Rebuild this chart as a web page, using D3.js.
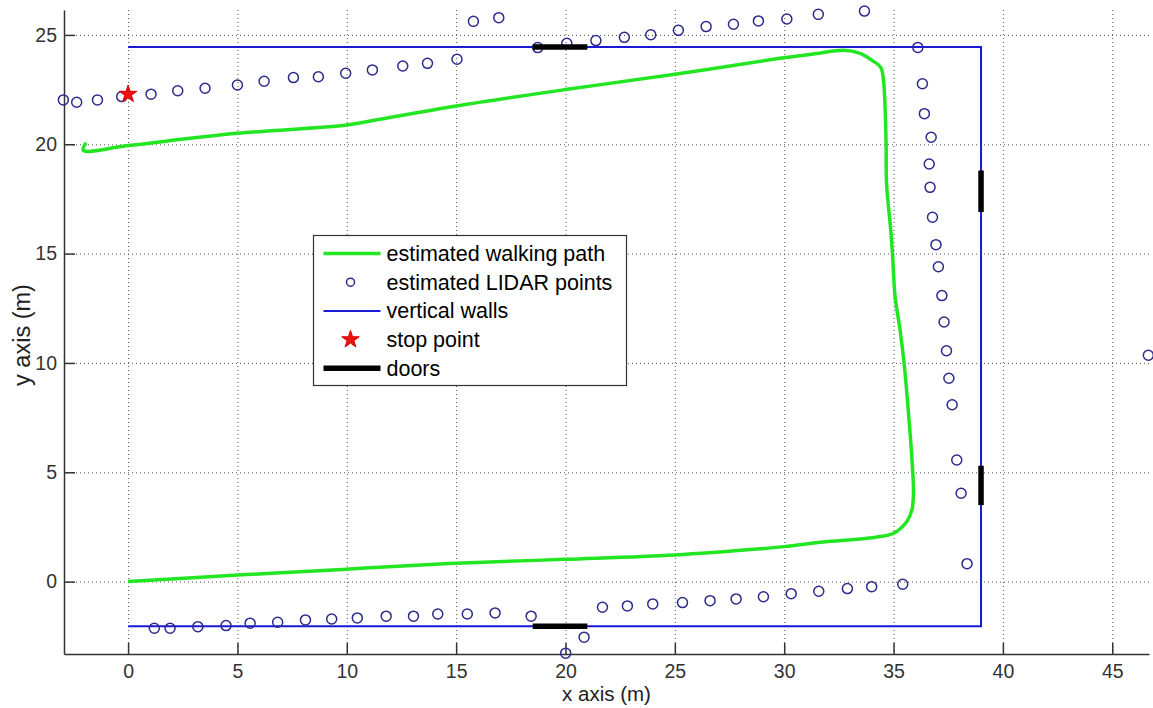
<!DOCTYPE html>
<html lang="en">
	<head>
		<meta charset="utf-8">
		<title>walking path and lidar points</title>
		<script src="https://cdn.jsdelivr.net/npm/d3@7"></script>
		<style type="text/css">
			body { margin: 0; background: white; }
			text { font-family: "Liberation Sans", Arial, sans-serif; }
		</style>
	</head>
	<body>

		<script type="text/javascript" charset="utf-8">

		//data
		var xTicks = [0,5,10,15,20,25,30,35,40,45]
		var yTicks = [0,5,10,15,20,25]

		// estimated walking path, starts at origin
		var walkPath = [[0,0],[5,0.3],[10,0.57],[11.5,0.66],[15,0.84],[20,1.02],[25,1.22],[28.9,1.5],[30,1.6],
			[32,1.83],[34.2,2.03],[35,2.21],[35.6,2.74],[35.84,3.28],[35.91,4.04],[35.86,5.3],[35.7,7.5],
			[35.48,10],[35.3,11.5],[35.07,13.03],[34.95,15],[34.87,16.1],[34.68,18.2],[34.66,20],[34.6,22],
			[34.55,22.8],[34.42,23.5],[34.0,23.85],[33.47,24.16],[32.7,24.3],[31.5,24.15],[29.8,23.93],
			[25,23.2],[20,22.5],[15,21.75],[11.5,21.14],[10,20.88],[5,20.5],[0,19.94],[-2.05,19.72],[-1.92,20.07]]

		var lidarPoints = [[-2.96,22.03],[-2.35,21.92],[-1.4,22.03],[-0.29,22.18],[1.05,22.29],[2.27,22.45],
			[3.52,22.56],[5.0,22.71],[6.22,22.88],[7.56,23.05],[8.7,23.09],[9.95,23.25],[11.17,23.4],[12.56,23.58],
			[13.69,23.7],[15.04,23.89],[15.79,25.62],[16.95,25.79],[18.73,24.42],[20.06,24.62],[21.39,24.74],
			[22.69,24.89],[23.9,25.01],[25.16,25.21],[26.43,25.38],[27.68,25.49],[28.82,25.64],[30.12,25.73],
			[31.56,25.94],[33.67,26.09],[36.11,24.43],[36.32,22.77],[36.41,21.4],[36.72,20.32],[36.63,19.1],
			[36.67,18.03],[36.78,16.66],[36.94,15.41],[37.05,14.4],[37.21,13.08],[37.31,11.87],[37.42,10.56],
			[37.53,9.3],[37.68,8.09],[37.89,5.56],[38.09,4.04],[38.36,0.82],[46.65,10.35],[35.42,-0.12],
			[34.0,-0.23],[32.89,-0.32],[31.58,-0.44],[30.32,-0.55],[29.05,-0.69],[27.8,-0.79],[26.61,-0.87],
			[25.35,-0.96],[23.99,-1.02],[22.83,-1.11],[21.69,-1.17],[20.85,-2.54],[20.01,-3.27],[18.43,-1.58],
			[16.78,-1.43],[15.51,-1.48],[14.16,-1.48],[13.05,-1.58],[11.8,-1.58],[10.48,-1.66],[9.31,-1.71],
			[8.11,-1.75],[6.84,-1.86],[5.58,-1.9],[4.48,-2.01],[3.19,-2.06],[1.92,-2.13],[1.2,-2.13]]

		var walls = [[0,24.45],[39,24.45],[39,-2.04],[0,-2.04]]

		var doors = [[[18.5,24.45],[21,24.45]],[[18.5,-2.04],[21,-2.04]],[[39,16.9],[39,18.8]],[[39,3.5],[39,5.3]]]

		var stopPoint = [0,22.29]

		var legendLabels = ["estimated walking path","estimated LIDAR points","vertical walls","stop point","doors"]

		//////////////////////////////////////////////////////////////////////////
		/////////////////////////////// SCALES ///////////////////////////////////
		//////////////////////////////////////////////////////////////////////////
		var plotLeft = 64, plotTop = 10, plotRight = 1149, plotBottom = 654

		var x = d3.scaleLinear().domain([-2.93,46.68]).range([plotLeft,plotRight])
		var y = d3.scaleLinear().domain([-3.31,26.14]).range([plotBottom,plotTop])

		var canvas = d3.select("body").append('svg').attr('width',1153).attr('height',708)

		var axisColor = '#333333'
		var green = '#22e622'
		var wallBlue = '#1a1ad6'
		var dotBlue = '#2b2b8c'

		// dotted grid
		canvas.append('g').selectAll('line').data(xTicks).enter().append('line')
			.attr('x1',function(d){return x(d)+0.5}).attr('x2',function(d){return x(d)+0.5})
			.attr('y1',plotTop).attr('y2',plotBottom)
			.attr('stroke','#555').attr('stroke-width',1).attr('stroke-dasharray','1,3')

		canvas.append('g').selectAll('line').data(yTicks).enter().append('line')
			.attr('y1',function(d){return y(d)+0.5}).attr('y2',function(d){return y(d)+0.5})
			.attr('x1',plotLeft).attr('x2',plotRight)
			.attr('stroke','#555').attr('stroke-width',1).attr('stroke-dasharray','1,3')

		// axes, ticks pointing inward like matlab
		var xAxis = d3.axisBottom(x).tickValues(xTicks).tickSizeInner(-11).tickSizeOuter(0).tickPadding(10)
		var yAxis = d3.axisLeft(y).tickValues(yTicks).tickSizeInner(-11).tickSizeOuter(0).tickPadding(7)

		var gx = canvas.append('g').attr('transform','translate(0,'+plotBottom+')').call(xAxis)
		var gy = canvas.append('g').attr('transform','translate('+plotLeft+',0)').call(yAxis)

		;[gx,gy].forEach(function(g){
			g.select('.domain').attr('stroke',axisColor).attr('stroke-width',1.5)
			g.selectAll('.tick line').attr('stroke',axisColor).attr('stroke-width',1.5)
			g.selectAll('.tick text').attr('fill',axisColor).attr('font-size',19.5)
				.attr('font-family','"Liberation Sans", Arial, sans-serif')
		})

		canvas.append('text')
			.attr('x',(plotLeft+plotRight)/2).attr('y',701)
			.attr('text-anchor','middle').attr('font-size',20.5).attr('fill','#222')
			.text('x axis (m)')

		canvas.append('text')
			.attr('transform','translate(30,'+((plotTop+plotBottom)/2+3)+') rotate(-90)')
			.attr('text-anchor','middle').attr('font-size',23.5).attr('fill','#222')
			.text('y axis (m)')

		//////////////////////////////////////////////////////////////////////////
		//////////////////////////////// MARKS ///////////////////////////////////
		//////////////////////////////////////////////////////////////////////////
		var line = d3.line().x(function(d){return x(d[0])}).y(function(d){return y(d[1])})

		canvas.append('path').datum(walls)
			.attr('d',line).attr('fill','none')
			.attr('stroke',wallBlue).attr('stroke-width',2)

		canvas.append('path').datum(walkPath)
			.attr('d',line.curve(d3.curveCatmullRom)).attr('fill','none')
			.attr('stroke',green).attr('stroke-width',3.5).attr('stroke-linejoin','round')
		line.curve(d3.curveLinear)

		canvas.append('g').selectAll('circle').data(lidarPoints).enter().append('circle')
			.attr('cx',function(d){return x(d[0])})
			.attr('cy',function(d){return y(d[1])})
			.attr('r',5)
			.attr('fill','none')
			.attr('stroke',dotBlue)
			.attr('stroke-width',1.5)

		canvas.append('g').selectAll('path').data(doors).enter().append('path')
			.attr('d',line).attr('stroke','black').attr('stroke-width',5.5).attr('fill','none')

		var star = d3.symbol().type(d3.symbolStar).size(95)
		canvas.append('path')
			.attr('d',star)
			.attr('transform','translate('+x(stopPoint[0])+','+y(stopPoint[1])+')')
			.attr('fill','#ee1111').attr('stroke','#dd0000').attr('stroke-width',1)

		//////////////////////////////////////////////////////////////////////////
		/////////////////////////////// LEGEND ///////////////////////////////////
		//////////////////////////////////////////////////////////////////////////
		var legend = canvas.append('g').attr('transform','translate(313.5,235.5)')

		legend.append('rect')
			.attr('width',313).attr('height',150)
			.attr('fill','white').attr('stroke','#333').attr('stroke-width',1.2)

		var rowY = function(i){return 18 + i*28.7}

		legend.selectAll('text').data(legendLabels).enter().append('text')
			.attr('x',73).attr('y',function(d,i){return rowY(i)+7.5})
			.attr('font-size',21.5).attr('fill','black')
			.text(function(d){return d})

		legend.append('line').attr('x1',10).attr('x2',67).attr('y1',rowY(0)).attr('y2',rowY(0))
			.attr('stroke',green).attr('stroke-width',3.5)
		legend.append('circle').attr('cx',37).attr('cy',rowY(1)).attr('r',4)
			.attr('fill','none').attr('stroke',dotBlue).attr('stroke-width',1.5)
		legend.append('line').attr('x1',10).attr('x2',67).attr('y1',rowY(2)).attr('y2',rowY(2))
			.attr('stroke',wallBlue).attr('stroke-width',2)
		legend.append('path').attr('d',star)
			.attr('transform','translate(37,'+rowY(3)+')')
			.attr('fill','#ee1111').attr('stroke','#dd0000').attr('stroke-width',1)
		legend.append('line').attr('x1',10).attr('x2',67).attr('y1',rowY(4)).attr('y2',rowY(4))
			.attr('stroke','black').attr('stroke-width',5.5)

		</script>
	</body>

</html>
